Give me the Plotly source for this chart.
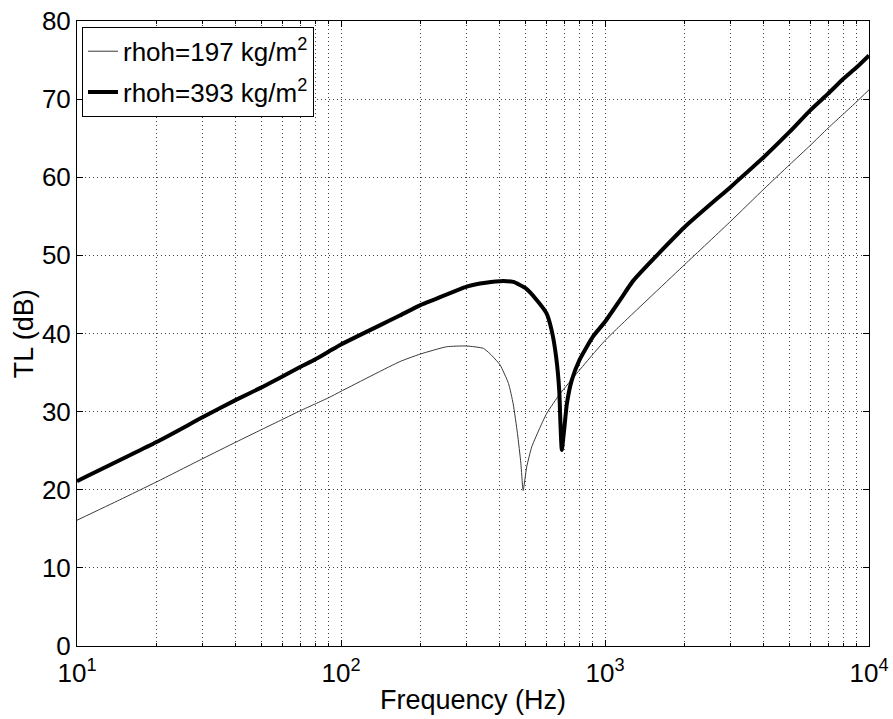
import plotly.graph_objects as go

# Data
freq_197 = [10, 14.5, 20, 30, 40, 50, 60, 70, 80, 90, 100, 167, 199, 251, 299, 346, 367, 400,
            431, 449, 466, 480, 488, 490, 505, 528, 568, 602, 676, 782, 903, 1000, 1141,
            2000, 3000, 4000, 5000, 6000, 7000, 8000, 9000, 10000]
tl_197 = [16.1, 18.7, 21.0, 24.0, 26.1, 27.7, 29.0, 30.1, 31.0, 31.8, 32.6, 36.4, 37.35, 38.3,
          38.4, 38.1, 37.4, 36.0, 33.6, 31.0, 27.2, 23.4, 20.2, 19.9, 22.9, 25.5, 28.0, 29.8,
          32.3, 34.9, 37.4, 39.1, 41.0, 48.8, 54.4, 58.5, 61.6, 64.1, 66.3, 68.1, 69.7, 71.2]

freq_393 = [10, 20, 30, 40, 50, 60, 70, 80, 90, 100, 167, 199, 224, 299, 336, 400, 449, 500,
            551, 600, 628, 653, 671, 678, 686, 700, 717, 748, 800, 900, 1000, 1141, 1282,
            2000, 3000, 4000, 5000, 6000, 7000, 8000, 9000, 10000]
tl_393 = [21.1, 26.1, 29.3, 31.5, 33.1, 34.5, 35.7, 36.7, 37.7, 38.6, 42.3, 43.6, 44.3, 46.0,
          46.4, 46.7, 46.6, 45.8, 44.3, 42.6, 40.4, 37.0, 32.7, 28.5, 25.1, 27.6, 31.0, 34.0,
          36.6, 39.6, 41.5, 44.3, 46.8, 53.6, 58.8, 62.6, 65.8, 68.6, 70.7, 72.6, 74.1, 75.6]

x_major = [10, 100, 1000, 10000]
x_major_text = ["10<sup>1</sup>", "10<sup>2</sup>", "10<sup>3</sup>", "10<sup>4</sup>"]
x_minor = [m * d for d in (10, 100, 1000) for m in range(2, 10)]
y_ticks = [0, 10, 20, 30, 40, 50, 60, 70, 80]

FONT = "Liberation Sans, Arial, Helvetica, sans-serif"

fig = go.Figure()
fig.add_trace(go.Scatter(x=freq_197, y=tl_197, mode="lines",
                         line=dict(color="#3a3a3a", width=1, shape="spline", smoothing=0.5),
                         name="rhoh=197 kg/m<sup>2</sup>", legendgroup="a"))
fig.add_trace(go.Scatter(x=freq_393, y=tl_393, mode="lines",
                         line=dict(color="black", width=4, shape="spline", smoothing=0.5),
                         name="rhoh=393 kg/m<sup>2</sup>", legendgroup="b"))

grid = dict(showgrid=True, gridcolor="rgba(0,0,0,0.75)", gridwidth=1, griddash="1px,3px")

fig.update_layout(
    width=893, height=719,
    paper_bgcolor="white", plot_bgcolor="white",
    margin=dict(l=77, r=24, t=21, b=73, autoexpand=False),
    font=dict(family=FONT, color="black", size=26),
    showlegend=True,
    legend=dict(x=0.0063, y=0.9907, xanchor="left", yanchor="top",
                bgcolor="white", bordercolor="black", borderwidth=1,
                font=dict(size=26, family=FONT), tracegroupgap=4),
    xaxis=dict(type="log", range=[1, 4], tickmode="array", tickvals=x_major,
               ticktext=x_major_text, ticks="inside", ticklen=6, tickcolor="black",
               showline=True, linecolor="black", linewidth=1, mirror="ticks",
               zeroline=False, tickfont=dict(size=26), automargin=False,
               ticklabelstandoff=4,
               minor=dict(tickmode="array", tickvals=x_minor, ticks="inside", ticklen=3,
                          tickcolor="black", **grid),
               **grid),
    yaxis=dict(range=[0, 80], tickmode="array", tickvals=y_ticks, ticks="inside",
               ticklen=6, tickcolor="black", showline=True, linecolor="black",
               linewidth=1, mirror="ticks", zeroline=False, tickfont=dict(size=26),
               automargin=False, **grid),
    annotations=[
        dict(text="TL (dB)", xref="paper", yref="paper", x=-0.0673, y=0.5,
             xanchor="center", yanchor="middle", textangle=-90, showarrow=False,
             font=dict(size=27, family=FONT)),
        dict(text="Frequency (Hz)", xref="paper", yref="paper", x=0.5, y=-0.0869,
             xanchor="center", yanchor="middle", showarrow=False,
             font=dict(size=27, family=FONT)),
    ],
)

fig.write_html(
    "out.html",
    config={"displayModeBar": False},
    post_script="document.body.style.margin='0';document.body.style.overflow='hidden';",
)
